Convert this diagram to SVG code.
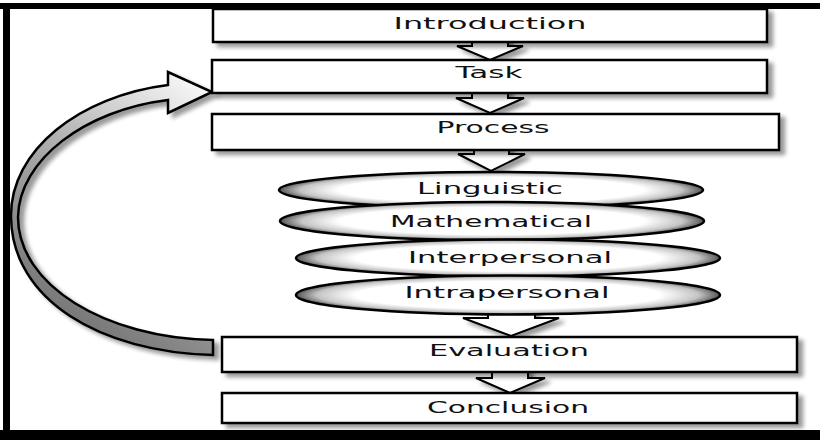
<svg xmlns="http://www.w3.org/2000/svg" width="820" height="440" viewBox="0 0 820 440">
<defs>
<style>
.box{fill:#fff;stroke:#000;stroke-width:2.5}
.ell{fill:url(#eg);stroke:#000;stroke-width:2.5}
.blk{fill:#fff;stroke:#000;stroke-width:2;stroke-linejoin:miter}
.t{font-family:"DejaVu Sans","Verdana",sans-serif;font-size:15px;fill:#111;text-anchor:middle}
</style>
<filter id="sh" x="-10%" y="-40%" width="125%" height="200%">
<feGaussianBlur in="SourceAlpha" stdDeviation="2.2"/>
<feOffset dx="5" dy="4" result="o"/>
<feComponentTransfer><feFuncA type="linear" slope="0.4"/></feComponentTransfer>
<feMerge><feMergeNode/><feMergeNode in="SourceGraphic"/></feMerge>
</filter>
<radialGradient id="eg" cx="50%" cy="50%" r="50%">
<stop offset="0" stop-color="#fff"/>
<stop offset="0.72" stop-color="#fff"/>
<stop offset="0.9" stop-color="#c4c4c4"/>
<stop offset="1" stop-color="#555"/>
</radialGradient>
<linearGradient id="cg" gradientUnits="userSpaceOnUse" x1="200" y1="80" x2="40" y2="320">
<stop offset="0" stop-color="#fafafa"/>
<stop offset="0.45" stop-color="#b0b0b0"/>
<stop offset="1" stop-color="#707070"/>
</linearGradient>
</defs>
<rect x="0" y="0" width="820" height="440" fill="#fff"/>
<g id="frame">
<rect x="0" y="3" width="820" height="6" fill="#000"/>
<rect x="3" y="3" width="7" height="437" fill="#000"/>
<rect x="0" y="430" width="820" height="10" fill="#000"/>
</g>
<g id="connectors">
<path class="blk" filter="url(#sh)" d="M472,36 L472,46 L457,46 L490,60 L523,46 L508,46 L508,36 Z"/>
<path class="blk" filter="url(#sh)" d="M472,88 L472,98 L456,98 L490,113 L524,98 L508,98 L508,88 Z"/>
<path class="blk" filter="url(#sh)" d="M474,145 L474,154 L458,154 L491,171 L525,154 L509,154 L509,145 Z"/>
<path class="blk" filter="url(#sh)" d="M488,300 L488,318 L463,318 L511,336 L559,318 L535,318 L535,300 Z"/>
<path class="blk" filter="url(#sh)" d="M492,368 L492,378 L476,378 L510,393 L545,378 L528,378 L528,368 Z"/>
<path id="loop" fill="url(#cg)" stroke="#000" stroke-width="2.5" stroke-linejoin="miter" filter="url(#sh)" d="M213,355 C100,352 12,300 11,217 C10,150 80,96 168,85 L168,72 L212,92 L168,113 L168,100 C85,110 19,160 18,217 C18,285 105,338 213,340 Z"/>
</g>
<g id="introduction">
<rect class="box" filter="url(#sh)" x="213" y="9" width="554" height="33"/>
<text class="t" x="490" y="29" textLength="193" lengthAdjust="spacingAndGlyphs">Introduction</text>
</g>
<g id="task">
<rect class="box" filter="url(#sh)" x="212" y="60" width="555" height="33"/>
<text class="t" x="489" y="78" textLength="67" lengthAdjust="spacingAndGlyphs">Task</text>
</g>
<g id="process">
<rect class="box" filter="url(#sh)" x="212" y="114" width="567" height="36"/>
<text class="t" x="493" y="133" textLength="113" lengthAdjust="spacingAndGlyphs">Process</text>
</g>
<g id="linguistic">
<ellipse class="ell" cx="491" cy="190" rx="212" ry="18"/>
<text class="t" x="490" y="194" textLength="146" lengthAdjust="spacingAndGlyphs">Linguistic</text>
</g>
<g id="mathematical">
<ellipse class="ell" cx="492" cy="221" rx="212" ry="19"/>
<text class="t" x="491" y="227" textLength="202" lengthAdjust="spacingAndGlyphs">Mathematical</text>
</g>
<g id="interpersonal">
<ellipse class="ell" cx="508" cy="258" rx="212" ry="18.5"/>
<text class="t" x="510" y="263" textLength="204" lengthAdjust="spacingAndGlyphs">Interpersonal</text>
</g>
<g id="intrapersonal">
<ellipse class="ell" cx="508" cy="295" rx="212" ry="19.5"/>
<text class="t" x="507" y="298" textLength="205" lengthAdjust="spacingAndGlyphs">Intrapersonal</text>
</g>
<g id="evaluation">
<rect class="box" filter="url(#sh)" x="222" y="337" width="575" height="35"/>
<text class="t" x="509" y="356" textLength="160" lengthAdjust="spacingAndGlyphs">Evaluation</text>
</g>
<g id="conclusion">
<rect class="box" filter="url(#sh)" x="222" y="393" width="575" height="30"/>
<text class="t" x="508" y="413" textLength="162" lengthAdjust="spacingAndGlyphs">Conclusion</text>
</g>
</svg>
